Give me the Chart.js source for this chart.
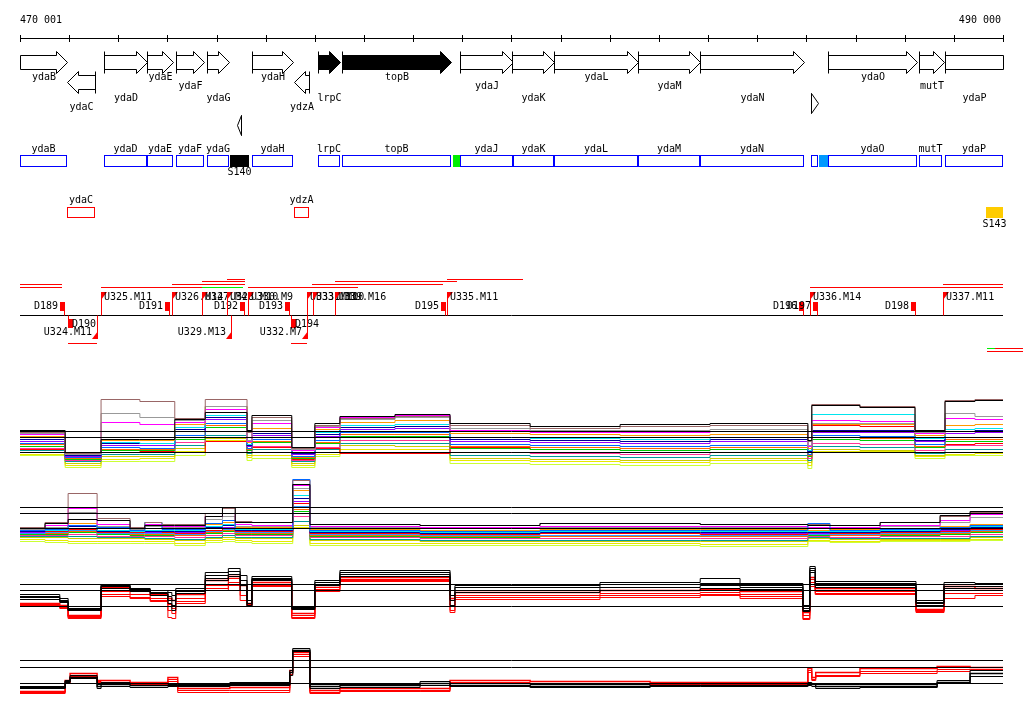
<!DOCTYPE html>
<html>
<head>
<meta charset="utf-8">
<title>ydaB - ydaP region</title>
<script src="https://cdn.jsdelivr.net/npm/chart.js@4.4.1/dist/chart.umd.min.js"></script>
<style>
  html, body { margin: 0; padding: 0; background: #fff; }
  #page { position: relative; width: 1024px; height: 714px; overflow: hidden; }
  #page canvas { position: absolute; left: 0; }
</style>
</head>
<body>
<div id="page">
  <canvas id="annot" width="1024" height="360" style="top:0"></canvas>
  <canvas id="track1" width="1024" height="84" style="top:392px"></canvas>
  <canvas id="track2" width="1024" height="78" style="top:474px"></canvas>
  <canvas id="track3" width="1024" height="67" style="top:561px"></canvas>
  <canvas id="track4" width="1024" height="60" style="top:643px"></canvas>
</div>
<script>
// view
var VIEW_START = 470001
var VIEW_END = 490000

// genes (arrows)
var geneNames = ['ydaB', 'ydaC', 'ydaD', 'ydaE', 'ydaF', 'ydaG', '', 'ydaH', 'ydzA', 'lrpC', 'topB', 'ydaJ', 'ydaK', 'ydaL', 'ydaM', 'ydaN', '', 'ydaO', 'mutT', 'ydaP']
var geneStart = [469850, 470957, 471710, 472585, 473175, 473806, 474416, 474721, 475576, 476064, 476552, 478953, 480011, 480865, 482574, 483835, 486094, 486440, 488291, 488820]
var geneEnd = [470957, 471527, 472585, 473114, 473745, 474253, 474497, 475555, 475881, 476511, 478770, 480031, 480865, 482574, 483835, 485951, 486237, 488250, 488800, 490300]
var geneStrand = [1, -1, 1, 1, 1, 1, -1, 1, -1, 1, 1, 1, 1, 1, 1, 1, 1, 1, 1, 1]

// CDS boxes
var cdsNames = ['ydaB', 'ydaC', 'ydaD', 'ydaE', 'ydaF', 'ydaG', 'ydaH', 'ydzA', 'lrpC', 'topB', 'ydaJ', 'ydaK', 'ydaL', 'ydaM', 'ydaN', '', 'ydaO', 'mutT', 'ydaP']
var cdsStart = [469850, 470957, 471710, 472585, 473175, 473806, 474721, 475576, 476064, 476552, 478953, 480031, 480865, 482574, 483835, 486094, 486440, 488291, 488820]
var cdsEnd = [470957, 471527, 472585, 473114, 473745, 474253, 475555, 475881, 476511, 478770, 480031, 480865, 482574, 483835, 485951, 486237, 488250, 488759, 490300]
var cdsStrand = [1, -1, 1, 1, 1, 1, 1, -1, 1, 1, 1, 1, 1, 1, 1, 1, 1, 1, 1]

// other features
var featNames = ['S140', '', '', 'S143']
var featStart = [474273, 478810, 486256, 489654]
var featEnd = [474660, 478953, 486440, 490000]
var featStrand = [1, 1, 1, -1]

// transcription units
var tuStart = [470001, 470001, 471649, 473704, 474640, 473093, 473704, 474212, 475942, 476410, 478689, 486074, 488779, 470978, 475514, 489675, 489838, 489675]
var tuEnd = [470856, 470856, 473704, 474538, 476878, 474579, 474579, 474579, 478607, 478892, 480235, 490000, 490000, 471567, 475840, 489838, 490406, 490406]

// upshift (U) and downshift (D) points
var uNames = ['U324.M11', 'U325.M11', 'U326.M14', 'U327.M4', 'U328.M10', 'U329.M13', 'U330.M9', 'U332.M7', 'U333.M10', 'U331.M10', 'U339.M16', 'U335.M11', 'U336.M14', 'U337.M11']
var uPos = [471567, 471649, 473093, 473704, 474212, 474294, 474640, 475840, 475840, 475962, 476410, 478689, 486074, 488779]
var uStrand = [-1, 1, 1, 1, 1, -1, 1, -1, 1, 1, 1, 1, 1, 1]
var dNames = ['D189', 'D190', 'D191', 'D192', 'D193', 'D194', 'D195', 'D196', 'D197', 'D198']
var dPos = [470916, 470978, 473053, 474579, 475494, 475514, 478668, 485951, 486236, 488230]
var dStrand = [1, -1, 1, 1, 1, -1, 1, 1, 1, 1]

// track 1 (+ strand, all conditions)
var t1Pos = [470001, 470920, 471650, 472440, 473150, 473770, 474620, 474720, 475530, 476000, 476510, 477630, 478750, 480380, 482210, 484040, 486030, 486110, 487090, 488210, 488820, 489430]
var t1Cutoffs = [0, 1.5, 2.1]
var t1Black = [2.2, 0.0, 1.3, 1.3, 3.3, 4.0, 2.2, 3.7, 0.5, 2.9, 3.6, 3.8, 2.9, 2.6, 2.8, 2.9, 1.2, 4.7, 4.5, 2.2, 5.1, 5.2]
var t1Brown = [2.0, -0.1, 5.3, 5.1, 3.4, 5.3, 2.0, 3.5, 0.4, 2.7, 3.4, 3.6, 2.7, 2.4, 2.6, 2.7, 1.1, 4.8, 4.6, 2.1, 5.2, 5.3]
var t1Gray = [1.9, -0.2, 3.9, 3.5, 3.2, 4.6, 1.2, 3.2, 0.3, 2.6, 3.3, 3.5, 2.4, 2.2, 2.2, 2.3, 0.7, 2.9, 2.9, 2.0, 3.9, 3.6]
var t1Magenta = [1.8, -0.1, 3.0, 2.8, 3.0, 4.3, 1.1, 2.9, 0.2, 2.5, 3.5, 3.7, 2.2, 2.0, 2.0, 2.1, 0.6, 3.2, 3.1, 1.9, 3.4, 3.3]
var t1Orange = [1.6, -0.1, 1.2, 1.2, 2.8, 4.6, 1.0, 2.4, 0.2, 2.3, 3.0, 3.2, 1.9, 1.8, 1.7, 1.8, 0.4, 2.8, 2.8, 1.7, 2.7, 2.8]
var t1Cyan = [1.5, -0.2, 1.0, 0.9, 2.5, 3.7, 0.8, 2.1, 0.0, 2.0, 2.7, 2.8, 1.5, 1.4, 1.3, 1.5, 0.2, 3.8, 3.8, 1.4, 2.3, 2.4]
var t1Navy = [1.3, -0.3, 0.9, 0.9, 2.3, 3.5, 0.7, 1.9, -0.1, 1.8, 2.5, 2.6, 1.3, 1.2, 1.1, 1.3, 0.1, 2.2, 2.2, 1.2, 2.1, 2.2]
var t1Purple = [1.1, -0.4, 0.7, 0.7, 2.1, 3.3, 0.6, 1.7, -0.2, 1.6, 2.3, 2.4, 1.1, 1.0, 0.9, 1.1, 0.0, 2.0, 2.0, 1.1, 1.9, 2.0]
var t1Blue = [0.9, -0.5, 0.5, 0.4, 1.7, 2.9, 0.4, 1.3, -0.4, 1.2, 2.0, 2.0, 0.8, 0.7, 0.6, 0.7, -0.2, 1.7, 1.6, 0.8, 1.5, 1.5]
var t1Tangerine = [0.8, -0.6, 0.3, 0.3, 1.5, 2.7, 0.3, 1.1, -0.5, 1.0, 1.8, 1.8, 0.6, 0.5, 0.4, 0.5, -0.3, 1.5, 1.4, 0.6, 1.3, 1.3]
var t1Green = [0.6, -0.7, 0.2, 0.2, 1.3, 2.5, 0.2, 1.0, -0.6, 0.9, 1.6, 1.6, 0.4, 0.3, 0.2, 0.3, -0.4, 1.3, 1.2, 0.5, 1.1, 1.1]
var t1Pink = [0.4, -0.8, 0.0, 0.0, 1.0, 2.1, 0.0, 0.6, -0.8, 0.5, 1.2, 1.2, 0.0, -0.1, -0.2, 0.0, -0.6, 0.9, 0.8, 0.2, 0.7, 0.7]
var t1Red = [0.3, -0.6, 0.2, 0.1, 0.0, 1.1, 0.2, 0.5, -0.7, 0.4, -0.1, -0.1, 0.5, 0.3, 0.4, 0.3, -0.6, 2.7, 2.6, 0.6, 0.8, 0.9]
var t1Teal = [0.2, -0.9, -0.2, -0.2, 0.7, 1.7, -0.1, 0.3, -0.9, 0.3, 0.9, 0.9, -0.3, -0.4, -0.5, -0.3, -0.8, 0.6, 0.5, -0.1, 0.3, 0.3]
var t1Olive = [0.0, -1.1, -0.4, -0.4, 0.4, 1.4, -0.3, 0.0, -1.1, 0.0, 0.7, 0.6, -0.6, -0.7, -0.8, -0.6, -1.0, 0.3, 0.2, -0.3, 0.0, 0.0]
var t1Yellow = [-0.2, -1.3, -0.7, -0.6, 0.1, 1.2, -0.5, -0.3, -1.3, -0.2, 0.3, 0.3, -0.8, -0.9, -1.0, -0.8, -1.3, 0.1, 0.1, -0.4, -0.2, -0.1]
var t1Lime = [-0.3, -1.5, -0.9, -0.9, -0.3, 1.1, -0.8, -0.6, -1.5, -0.4, -0.1, 0.0, -1.1, -1.2, -1.3, -1.1, -1.6, 0.0, 0.0, -0.6, -0.3, -0.3]

// track 2 (- strand, all conditions)
var t2Pos = [470001, 470510, 470980, 471570, 472240, 472540, 472890, 473150, 473770, 474120, 474380, 474720, 475550, 475900, 478140, 480580, 483840, 486030, 486480, 487500, 488720, 489330]
var t2Cutoffs = [0, 1.5, 2.1]
var t2Black = [0.0, 0.5, 0.9, 0.8, 0.0, 0.3, 0.3, 0.3, 1.2, 2.1, 0.6, 0.6, 4.4, 0.4, 0.3, 0.5, 0.4, 0.3, 0.3, 0.6, 1.3, 1.7]
var t2Brown = [0.1, 0.6, 3.5, 1.0, 0.1, 0.6, 0.4, 0.4, 1.5, 2.0, 0.7, 0.6, 4.8, 0.4, 0.3, 0.5, 0.4, 0.4, 0.3, 0.6, 1.2, 1.6]
var t2BlueTop = [-0.2, -0.1, 0.3, 0.1, -0.2, 0.6, -0.1, -0.1, 0.5, 0.8, 0.0, 0.0, 4.9, -0.2, -0.3, -0.2, -0.2, 0.5, -0.2, -0.1, 0.1, 0.3]
var t2Magenta = [0.0, 0.3, 2.0, 0.4, 0.0, 0.4, 0.2, 0.2, 1.2, 1.5, 0.4, 0.3, 4.3, 0.2, 0.1, 0.2, 0.2, 0.1, 0.1, 0.3, 0.8, 1.4]
var t2Gray = [-0.1, 0.1, 1.6, 0.2, -0.1, 0.2, 0.1, 0.1, 0.9, 1.2, 0.2, 0.2, 4.0, 0.1, 0.0, 0.1, 0.1, 0.0, 0.0, 0.2, 0.6, 1.1]
var t2Orange = [-0.1, 0.0, 0.5, 0.0, -0.1, 0.0, 0.0, 0.0, 0.4, 0.6, 0.1, 0.1, 3.8, -0.1, -0.2, -0.1, -0.1, -0.2, -0.1, 0.0, 0.2, 0.4]
var t2Cyan = [-0.2, -0.2, 0.3, -0.2, -0.3, -0.2, -0.2, -0.2, 0.2, 0.4, -0.1, -0.1, 3.3, -0.3, -0.4, -0.3, -0.3, -0.3, -0.3, -0.2, 0.0, 0.2]
var t2Navy = [-0.3, -0.2, 0.2, -0.3, -0.3, -0.3, -0.3, -0.3, 0.1, 0.3, -0.2, -0.2, 3.0, -0.4, -0.5, -0.4, -0.4, -0.4, -0.4, -0.3, -0.1, 0.1]
var t2Red = [-0.3, -0.3, -0.1, -0.4, -0.4, -0.3, -0.4, -0.5, -0.2, 0.0, -0.3, -0.3, 2.5, -0.5, -0.6, -0.5, -0.6, -0.4, -0.5, -0.4, -0.3, -0.1]
var t2Purple = [-0.4, -0.3, 0.0, -0.3, -0.4, -0.4, -0.4, -0.4, 0.0, 0.1, -0.3, -0.3, 2.7, -0.5, -0.5, -0.5, -0.5, -0.5, -0.4, -0.4, -0.2, 0.0]
var t2Blue = [-0.5, -0.4, -0.2, -0.5, -0.5, -0.5, -0.5, -0.6, -0.3, -0.1, -0.4, -0.4, 2.2, -0.6, -0.7, -0.7, -0.7, -0.6, -0.6, -0.5, -0.4, -0.2]
var t2Tangerine = [-0.5, -0.5, -0.3, -0.5, -0.6, -0.6, -0.6, -0.7, -0.4, -0.2, -0.5, -0.5, 1.9, -0.7, -0.8, -0.8, -0.8, -0.6, -0.7, -0.6, -0.5, -0.3]
var t2Green = [-0.6, -0.6, -0.4, -0.6, -0.7, -0.7, -0.7, -0.7, -0.5, -0.3, -0.6, -0.6, 1.7, -0.8, -0.9, -0.8, -0.8, -0.7, -0.7, -0.7, -0.6, -0.4]
var t2Pink = [-0.7, -0.7, -0.6, -0.8, -0.8, -0.8, -0.8, -0.9, -0.7, -0.5, -0.7, -0.7, 1.2, -0.9, -1.0, -1.0, -1.0, -0.8, -0.9, -0.8, -0.8, -0.6]
var t2Teal = [-0.8, -0.8, -0.8, -0.9, -0.9, -1.0, -1.0, -1.1, -0.9, -0.7, -0.9, -0.9, 0.7, -1.1, -1.2, -1.2, -1.2, -0.9, -1.0, -1.0, -1.0, -0.8]
var t2Olive = [-0.9, -0.9, -1.0, -1.0, -1.0, -1.1, -1.1, -1.2, -1.0, -0.9, -1.0, -1.0, 0.3, -1.2, -1.3, -1.3, -1.3, -1.0, -1.1, -1.1, -1.1, -0.9]
var t2Yellow = [-1.1, -1.2, -1.3, -1.3, -1.3, -1.3, -1.3, -1.5, -1.2, -1.1, -1.2, -1.3, 0.1, -1.5, -1.5, -1.5, -1.6, -1.2, -1.3, -1.2, -1.2, -1.1]
var t2Lime = [-1.3, -1.4, -1.5, -1.5, -1.5, -1.5, -1.5, -1.7, -1.4, -1.3, -1.4, -1.5, 0.0, -1.7, -1.7, -1.7, -1.8, -1.3, -1.4, -1.3, -1.3, -1.2]

// track 3 (+ strand, selected conditions)
var t3Pos = [470001, 470810, 470980, 471650, 472240, 472650, 473010, 473090, 473170, 473770, 474240, 474480, 474620, 474720, 475530, 476000, 476510, 478750, 478850, 481800, 483840, 484650, 485930, 486070, 486180, 488230, 488800, 489430]
var t3Cutoffs = [0, 1.6, 2.2]
var t3Black1 = [1.2, 0.8, -0.2, 2.2, 1.8, 1.6, 1.4, 1.1, 1.8, 3.4, 3.8, 3.1, 0.6, 3.0, 0.0, 2.6, 3.6, 1.6, 2.1, 2.4, 2.8, 2.3, 0.1, 4.0, 2.5, 0.6, 2.4, 2.3]
var t3Black2 = [1.0, 0.6, -0.3, 2.1, 1.7, 1.4, 1.0, 0.6, 1.6, 3.1, 3.5, 2.6, 0.3, 2.8, -0.1, 2.4, 3.4, 1.1, 1.9, 2.2, 2.3, 2.1, -0.2, 3.8, 2.3, 0.4, 2.2, 2.2]
var t3Black3 = [0.9, 0.5, -0.4, 2.0, 1.6, 1.3, 0.6, 0.1, 1.5, 2.8, 3.2, 2.1, 0.1, 2.7, -0.2, 2.2, 3.2, 0.6, 1.6, 1.9, 2.1, 1.9, -0.4, 3.6, 2.1, 0.3, 2.0, 2.0]
var t3Black4 = [0.7, 0.4, -0.4, 1.8, 1.5, 1.1, 0.3, -0.4, 1.3, 2.6, 3.0, 1.6, 0.0, 2.6, -0.3, 2.1, 3.0, 0.1, 1.4, 1.6, 1.8, 1.7, -0.5, 3.4, 1.9, 0.1, 1.8, 1.8]
var t3Red1 = [0.3, 0.1, -0.9, 1.9, 1.6, 1.2, 0.8, 0.6, 1.2, 2.6, 3.0, 2.1, 0.3, 2.4, -0.7, 2.1, 2.9, 0.8, 1.4, 1.6, 1.7, 1.5, -0.6, 2.9, 1.8, -0.3, 2.0, 1.8]
var t3Red2 = [0.2, 0.0, -1.0, 1.5, 1.2, 0.8, 0.2, -0.2, 0.8, 2.1, 2.8, 1.6, 0.2, 2.2, -0.9, 1.9, 2.7, 0.1, 1.1, 1.3, 1.4, 1.2, -0.9, 2.7, 1.5, -0.4, 1.6, 1.6]
var t3Red3 = [0.1, -0.1, -1.1, 1.2, 0.9, 0.6, -0.4, -0.7, 0.5, 1.8, 2.4, 1.1, 0.1, 2.1, -1.1, 1.7, 2.6, -0.4, 0.9, 1.1, 1.2, 1.0, -1.2, 2.4, 1.3, -0.5, 1.3, 1.3]
var t3Red4 = [0.0, -0.2, -1.2, 1.0, 0.8, 0.5, -1.1, -1.2, 0.3, 1.6, 2.1, 0.6, 0.0, 2.0, -1.2, 1.5, 2.5, -0.6, 0.7, 0.9, 1.1, 0.8, -1.3, 2.0, 1.2, -0.6, 0.8, 1.1]

// track 4 (- strand, selected conditions)
var t4Pos = [470001, 470920, 471020, 471570, 471650, 472240, 473010, 473210, 474270, 475490, 475550, 475900, 476510, 478140, 478750, 480380, 482820, 483840, 486030, 486110, 486190, 487090, 488660, 489330]
var t4Cutoffs = [0, 1.6, 2.3]
var t4Black1 = [-0.3, 0.3, 0.8, -0.1, 0.1, 0.0, -0.1, -0.1, 0.1, 1.3, 3.5, -0.1, -0.1, 0.2, 0.0, -0.1, 0.0, 0.0, 0.1, 0.0, -0.1, -0.1, 0.3, 1.3]
var t4Black2 = [-0.4, 0.2, 0.6, -0.3, -0.1, -0.2, -0.2, -0.2, -0.1, 1.1, 3.3, -0.3, -0.2, 0.0, -0.2, -0.3, -0.2, -0.2, -0.1, -0.1, -0.3, -0.3, 0.1, 1.0]
var t4Black3 = [-0.5, 0.1, 0.5, -0.5, -0.3, -0.4, -0.3, -0.3, -0.2, 0.8, 3.2, -0.5, -0.4, -0.2, -0.3, -0.4, -0.3, -0.3, -0.2, -0.3, -0.5, -0.4, 0.0, 0.7]
var t4Red1 = [-0.8, 0.3, 1.0, 0.3, 0.3, 0.1, 0.6, -0.5, -0.4, 1.3, 3.1, -0.7, -0.5, -0.5, 0.3, 0.2, 0.1, 0.1, 1.5, 0.6, 1.1, 1.5, 1.7, 1.6]
var t4Red2 = [-0.9, 0.1, 0.7, 0.2, 0.1, 0.0, 0.4, -0.7, -0.7, 1.1, 2.9, -0.9, -0.7, -0.7, 0.1, 0.0, 0.0, 0.0, 1.3, 0.4, 0.8, 1.2, 1.4, 1.4]
var t4Red3 = [-1.0, 0.0, 0.6, 0.1, 0.0, -0.1, 0.2, -0.9, -0.9, 0.9, 2.7, -1.0, -0.8, -0.8, 0.0, -0.1, -0.1, -0.1, 1.1, 0.3, 0.7, 1.0, 1.2, 1.3]

// ---- layout and styles ----
var FONT = '10px "DejaVu Sans Mono", "Liberation Mono", monospace'
var RED = '#ff0000'
var BLUE = '#0000ff'
var ROW = {
  rulerText: 20, ruler: 38.5,
  fwd: 62.5, rev: 82.5, shortFwd: 103.5, shortRev: 125.5,
  geneLabel: [77, 86, 98], revLabel: 107.5,
  cdsFwd: [155, 167], cdsFwdLabel: 149, fwdFeatLabel: 172,
  cdsRev: [207, 218], cdsRevLabel: 200, revFeatLabel: 224,
  base: 315.5, flagTop: 292, flagBottom: 339, uLabel: 297.5, uLabelBelow: 332,
  dBox: [302, 311], dBoxBelow: [319, 328], dLabel: 306, dLabelBelow: 324
}
var ARROW = { head: 11, headHalf: 11, bodyHalf: 7, shortHalf: 10 }
var GENE_LABEL_ROW = [0, -1, 2, 0, 1, 2, -1, 0, -1, 2, 0, 1, 2, 0, 1, 2, -1, 0, 1, 2]
var SOLID_GENES = ['lrpC', 'topB']
var FEAT_COLOR = ['#000000', '#00ee00', '#0099ff', '#ffcc00']
var TU_Y = { A: 287.5, B: 284.5, C: 281.5, D: 279.5, low: 343.5, r1: 348.5, r2: 351.5 }
var TU_ROW = ['B', 'A', 'A', 'A', 'A', 'B', 'C', 'D', 'B', 'C', 'D', 'A', 'B', 'low', 'low', 'r1', 'r1', 'r2']
var TU_COLOR = [RED, RED, RED, '#00ee00', RED, RED, RED, RED, RED, RED, RED, RED, RED, RED, RED, '#00ee00', RED, RED]
// half a unit of y so that one-decimal values land on pixel centres
var HALF_PX = 0.05

function fmtPos(v) {
  return String(v).replace(/\B(?=(\d{3})+(?!\d))/g, ' ')
}

function drawArrow(ctx, tail, tip, cy, half, openTail, openTip, solid) {
  var dir = tip >= tail ? 1 : -1
  var len = Math.abs(tip - tail)
  var head = openTip ? 0 : Math.min(ARROW.head, len)
  var neck = tip - dir * head
  ctx.beginPath()
  if (head >= len) {
    ctx.moveTo(tail, cy - half)
    ctx.lineTo(tip, cy)
    ctx.lineTo(tail, cy + half)
  } else {
    ctx.moveTo(tail, cy - ARROW.bodyHalf)
    ctx.lineTo(neck, cy - ARROW.bodyHalf)
    if (head > 0) {
      ctx.lineTo(neck, cy - half)
      ctx.lineTo(tip, cy)
      ctx.lineTo(neck, cy + half)
    }
    ctx.lineTo(neck, cy + ARROW.bodyHalf)
    ctx.lineTo(tail, cy + ARROW.bodyHalf)
  }
  ctx.closePath()
  ctx.fillStyle = solid ? '#000' : '#fff'
  ctx.fill()
  ctx.stroke()
  if (!openTail) {
    ctx.beginPath()
    ctx.moveTo(tail, cy - half)
    ctx.lineTo(tail, cy + half)
    ctx.stroke()
  }
}

var annotationPainter = {
  id: 'annotationPainter',
  afterDraw: function (chart) {
    var ctx = chart.ctx
    var x = chart.scales.x
    var left = chart.chartArea.left
    var right = chart.chartArea.right
    function px(v) {
      return Math.round(Math.min(Math.max(x.getPixelForValue(v), left), right))
    }
    function rawPx(v) {
      return Math.round(x.getPixelForValue(v))
    }
    ctx.save()
    ctx.lineWidth = 1
    ctx.font = FONT
    ctx.textBaseline = 'middle'

    // ruler
    ctx.strokeStyle = '#000'
    ctx.fillStyle = '#000'
    ctx.beginPath()
    ctx.moveTo(left, ROW.ruler)
    ctx.lineTo(right, ROW.ruler)
    var ticks = [VIEW_START]
    for (var t = 471000; t < VIEW_END; t += 1000) ticks.push(t)
    ticks.push(VIEW_END)
    ticks.forEach(function (v) {
      var p = px(v) + 0.5
      ctx.moveTo(p, ROW.ruler - 3.5)
      ctx.lineTo(p, ROW.ruler + 3.5)
    })
    ctx.stroke()
    ctx.textAlign = 'left'
    ctx.fillText(fmtPos(VIEW_START), left, ROW.rulerText)
    ctx.textAlign = 'right'
    ctx.fillText(fmtPos(VIEW_END), right - 2, ROW.rulerText)

    // gene arrows
    geneNames.forEach(function (name, i) {
      var fwd = geneStrand[i] > 0
      var s = px(geneStart[i]) + 0.5
      var e = px(geneEnd[i]) + 0.5
      var short = (e - s) < ARROW.head
      var cy = short ? (fwd ? ROW.shortFwd : ROW.shortRev) : (fwd ? ROW.fwd : ROW.rev)
      var half = short ? ARROW.shortHalf : ARROW.headHalf
      var openStart = geneStart[i] < VIEW_START
      var openEnd = geneEnd[i] > VIEW_END
      ctx.strokeStyle = '#000'
      if (fwd) drawArrow(ctx, s, e, cy, half, openStart, openEnd, SOLID_GENES.indexOf(name) >= 0)
      else drawArrow(ctx, e, s, cy, half, openEnd, openStart, SOLID_GENES.indexOf(name) >= 0)
      if (name) {
        ctx.fillStyle = '#000'
        ctx.textAlign = 'center'
        var ly = fwd ? ROW.geneLabel[GENE_LABEL_ROW[i]] : ROW.revLabel
        ctx.fillText(name, (s + e) / 2, ly)
      }
    })

    // CDS boxes
    cdsNames.forEach(function (name, i) {
      var fwd = cdsStrand[i] > 0
      var s = px(cdsStart[i])
      var e = px(cdsEnd[i])
      var rowY = fwd ? ROW.cdsFwd : ROW.cdsRev
      ctx.strokeStyle = fwd ? BLUE : RED
      ctx.strokeRect(s + 0.5, rowY[0] + 0.5, e - s - 1, rowY[1] - rowY[0] - 1)
      if (name) {
        ctx.fillStyle = '#000'
        ctx.textAlign = 'center'
        ctx.fillText(name, (s + e) / 2, fwd ? ROW.cdsFwdLabel : ROW.cdsRevLabel)
      }
    })

    // other features
    featNames.forEach(function (name, i) {
      var fwd = featStrand[i] > 0
      var s = px(featStart[i])
      var e = px(featEnd[i])
      var rowY = fwd ? ROW.cdsFwd : ROW.cdsRev
      ctx.fillStyle = FEAT_COLOR[i]
      ctx.fillRect(s, rowY[0], e - s, rowY[1] - rowY[0])
      if (name) {
        ctx.fillStyle = '#000'
        ctx.textAlign = 'center'
        ctx.fillText(name, (s + e) / 2, fwd ? ROW.fwdFeatLabel : ROW.revFeatLabel)
      }
    })

    // transcription units
    tuStart.forEach(function (s, i) {
      var y = TU_Y[TU_ROW[i]]
      ctx.strokeStyle = TU_COLOR[i]
      ctx.beginPath()
      ctx.moveTo(Math.max(rawPx(s), left), y)
      ctx.lineTo(rawPx(tuEnd[i]), y)
      ctx.stroke()
    })

    // baseline
    ctx.strokeStyle = '#000'
    ctx.beginPath()
    ctx.moveTo(left, ROW.base)
    ctx.lineTo(right, ROW.base)
    ctx.stroke()

    // D markers
    dPos.forEach(function (p, i) {
      var m = rawPx(p)
      ctx.strokeStyle = RED
      ctx.fillStyle = RED
      ctx.beginPath()
      if (dStrand[i] > 0) {
        ctx.fillRect(m - 5, ROW.dBox[0], 5, ROW.dBox[1] - ROW.dBox[0])
        ctx.moveTo(m - 0.5, ROW.dBox[1])
        ctx.lineTo(m - 0.5, ROW.base)
        ctx.stroke()
        ctx.fillStyle = '#000'
        ctx.textAlign = 'right'
        ctx.fillText(dNames[i], m - 7, ROW.dLabel)
      } else {
        ctx.fillRect(m, ROW.dBoxBelow[0], 5, ROW.dBoxBelow[1] - ROW.dBoxBelow[0])
        ctx.moveTo(m + 0.5, ROW.base)
        ctx.lineTo(m + 0.5, ROW.dBoxBelow[0])
        ctx.stroke()
        ctx.fillStyle = '#000'
        ctx.textAlign = 'left'
        ctx.fillText(dNames[i], m + 4, ROW.dLabelBelow)
      }
    })

    // U markers
    uPos.forEach(function (p, i) {
      var m = rawPx(p)
      ctx.strokeStyle = RED
      ctx.fillStyle = RED
      ctx.beginPath()
      if (uStrand[i] > 0) {
        ctx.moveTo(m + 0.5, ROW.base)
        ctx.lineTo(m + 0.5, ROW.flagTop)
        ctx.stroke()
        ctx.beginPath()
        ctx.moveTo(m, ROW.flagTop)
        ctx.lineTo(m + 6, ROW.flagTop)
        ctx.lineTo(m, ROW.flagTop + 8)
        ctx.closePath()
        ctx.fill()
        ctx.fillStyle = '#000'
        ctx.textAlign = 'left'
        ctx.fillText(uNames[i], m + 3, ROW.uLabel)
      } else {
        ctx.moveTo(m + 0.5, ROW.base)
        ctx.lineTo(m + 0.5, ROW.flagBottom)
        ctx.stroke()
        ctx.beginPath()
        ctx.moveTo(m + 1, ROW.flagBottom)
        ctx.lineTo(m - 5, ROW.flagBottom)
        ctx.lineTo(m + 1, ROW.flagBottom - 8)
        ctx.closePath()
        ctx.fill()
        ctx.fillStyle = '#000'
        ctx.textAlign = 'right'
        ctx.fillText(uNames[i], m - 5, ROW.uLabelBelow)
      }
    })
    ctx.restore()
  }
}

var baseOptions = function (yMin, yMax) {
  return {
    responsive: false,
    animation: false,
    events: [],
    layout: { padding: { left: 20, right: 21, top: 0, bottom: 0 } },
    plugins: { legend: { display: false }, tooltip: { enabled: false } },
    scales: {
      x: { type: 'linear', min: VIEW_START, max: VIEW_END, display: false },
      y: { type: 'linear', min: yMin, max: yMax, display: false }
    }
  }
}

new Chart(document.getElementById('annot'), {
  type: 'line',
  data: { datasets: [] },
  options: baseOptions(0, 360),
  plugins: [annotationPainter]
})

function toSteps(pos, values) {
  var pts = pos.map(function (p, i) {
    return { x: p, y: values[i] }
  })
  pts.push({ x: VIEW_END, y: values[values.length - 1] })
  return pts
}

function makeTrack(id, pos, cutoffs, series, yMin, yMax) {
  var datasets = cutoffs.map(function (c) {
    return {
      data: [{ x: VIEW_START, y: c }, { x: VIEW_END, y: c }],
      borderColor: '#000', borderWidth: 1, pointRadius: 0
    }
  })
  series.forEach(function (s) {
    datasets.push({
      data: toSteps(pos, s[0]),
      borderColor: s[1], borderWidth: s[2] || 1, pointRadius: 0, stepped: true
    })
  })
  return new Chart(document.getElementById(id), {
    type: 'line',
    data: { datasets: datasets },
    options: baseOptions(yMin + HALF_PX, yMax + HALF_PX)
  })
}

makeTrack('track1', t1Pos, t1Cutoffs, [
  [t1Black, '#000000'], [t1Brown, '#996666'], [t1Gray, '#999999'], [t1Magenta, '#ff00ff'],
  [t1Orange, '#ff9900'], [t1Cyan, '#00e5ee'], [t1Navy, '#000099'], [t1Purple, '#9900ff'],
  [t1Blue, '#0066ff'], [t1Tangerine, '#ff6600'], [t1Green, '#00cc00'], [t1Pink, '#ff3399'],
  [t1Red, '#ff0000'], [t1Teal, '#009999'], [t1Olive, '#cccc00'], [t1Yellow, '#e8e800'], [t1Lime, '#ccff33']
], -2.4, 6.0)

makeTrack('track2', t2Pos, t2Cutoffs, [
  [t2Black, '#000000'], [t2Brown, '#996666'], [t2BlueTop, '#0066ff'], [t2Magenta, '#ff00ff'],
  [t2Gray, '#999999'], [t2Orange, '#ff9900'], [t2Cyan, '#00e5ee'], [t2Navy, '#000099'],
  [t2Red, '#ff0000'], [t2Purple, '#9900ff'], [t2Blue, '#3399ff'], [t2Tangerine, '#ff6600'],
  [t2Green, '#00cc00'], [t2Pink, '#ff3399'], [t2Teal, '#009999'], [t2Olive, '#cccc00'],
  [t2Yellow, '#e8e800'], [t2Lime, '#ccff33']
], -2.4, 5.4)

makeTrack('track3', t3Pos, t3Cutoffs, [
  [t3Black1, '#000000'], [t3Black2, '#000000'], [t3Black3, '#000000'], [t3Black4, '#000000'],
  [t3Red1, '#ff0000', 1.4], [t3Red2, '#ff0000'], [t3Red3, '#ff0000'], [t3Red4, '#ff0000']
], -2.2, 4.5)

makeTrack('track4', t4Pos, t4Cutoffs, [
  [t4Black1, '#000000'], [t4Black2, '#000000', 1.4], [t4Black3, '#000000'],
  [t4Red1, '#ff0000', 1.4], [t4Red2, '#ff0000'], [t4Red3, '#ff0000']
], -2.0, 4.0)
</script>
</body>
</html>
